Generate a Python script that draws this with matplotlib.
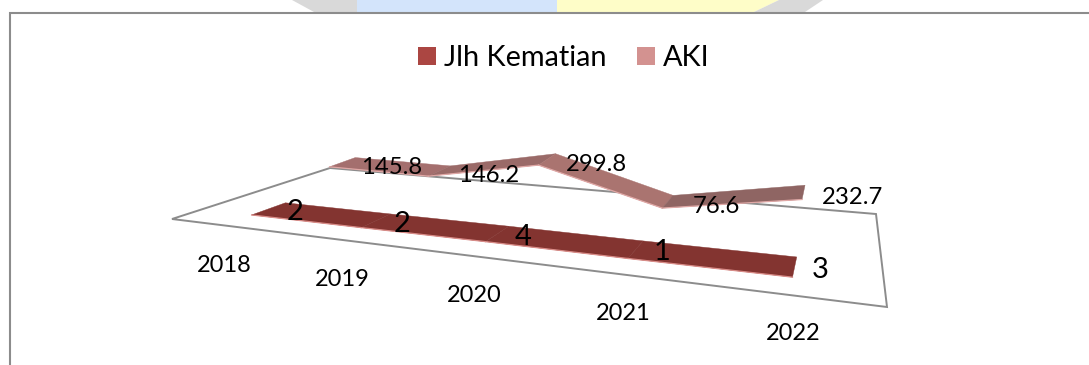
import matplotlib
matplotlib.use("Agg")
import matplotlib.pyplot as plt
from matplotlib.patches import Polygon, Rectangle
import numpy as np

years = ["2018", "2019", "2020", "2021", "2022"]
kematian = [2, 2, 4, 1, 3]
aki = [145.8, 146.2, 299.8, 76.6, 232.7]
kematian_labels = ["2", "2", "4", "1", "3"]
aki_labels = ["145.8", "146.2", "299.8", "76.6", "232.7"]

WIDTH, HEIGHT = 1089, 365

plt.rcParams["font.family"] = ["Lato", "DejaVu Sans"]

# floor of the 3D chart in pixels: front-left, front-right, back-right, back-left
floor_px = np.array([[172, 219], [887, 307], [876, 214], [330, 168]], dtype=float)
floor_uv = np.array([[0, 0], [1, 0], [1, 1], [0, 1]], dtype=float)
px_per_unit = 0.14


def homography(src, dst):
    rows = []
    for (u, v), (x, y) in zip(src, dst):
        rows.append([u, v, 1, 0, 0, 0, -u * x, -v * x, -x])
        rows.append([0, 0, 0, u, v, 1, -u * y, -v * y, -y])
    _, _, vt = np.linalg.svd(np.array(rows))
    return vt[-1].reshape(3, 3)


H = homography(floor_uv, floor_px)


def project(u, v, value=0.0):
    p = H @ np.array([u, v, 1.0])
    x, y = p[:2] / p[2]
    return x, y - value * px_per_unit


def ribbon(ax, values, v_front, v_back, colors, edge):
    n = len(values)
    us = (np.arange(n) + 0.5) / n
    for i in range(n - 1):
        quad = [project(us[i], v_front, values[i]), project(us[i + 1], v_front, values[i + 1]),
                project(us[i + 1], v_back, values[i + 1]), project(us[i], v_back, values[i])]
        ax.add_patch(Polygon(quad, closed=True, fc=colors[i], ec=colors[i], lw=0.3, zorder=3))
        ax.plot([quad[0][0], quad[1][0]], [quad[0][1], quad[1][1]], color=edge, lw=0.9, zorder=3)
    return us


fig = plt.figure(figsize=(WIDTH / 100, HEIGHT / 100), dpi=100)
ax = fig.add_axes([0, 0, 1, 1])
ax.set_xlim(0, WIDTH)
ax.set_ylim(HEIGHT, 0)
ax.axis("off")

# bits of the page behind the chart, above the frame
ax.add_patch(Polygon([(292, 0), (357, 0), (357, 12), (314, 12)], fc="#D9D9D9", ec="none"))
ax.add_patch(Rectangle((357, 0), 200, 12, fc="#D3E4FB", ec="none"))
ax.add_patch(Polygon([(557, 0), (779, 0), (754, 12), (557, 12)], fc="#FEFDC8", ec="none"))
ax.add_patch(Polygon([(779, 0), (823, 0), (805, 12), (754, 12)], fc="#D9D9D9", ec="none"))

# chart frame
ax.plot([10, 10, WIDTH], [HEIGHT, 12.5, 12.5], color="#8C8C8C", lw=1.5, solid_joinstyle="miter", zorder=2)

# floor
ax.add_patch(Polygon(floor_px, closed=True, fc="white", ec="#8C8C8C", lw=1.4, zorder=2))

us = ribbon(ax, kematian, 0.15, 0.35, ["#833430"] * 4, "#D98C88")
ribbon(ax, aki, 0.65, 0.85, ["#A46F6E", "#9A6A68", "#AA7470", "#8F6563"], "#E0A8A6")

label_u = np.linspace(0.234, 0.911, 5)
label_v = np.linspace(-0.36, -0.27, 5)
for u, v, year in zip(label_u, label_v, years):
    x, y = project(u, v)
    ax.text(x, y, year, fontsize=17, ha="center", va="center", color="black", zorder=5)

for u, val, lab in zip(us, aki, aki_labels):
    x, y = project(u, 0.75, val)
    ax.text(x + 49, y + 5, lab, fontsize=17.2, ha="center", va="center", color="black", zorder=5)

for u, val, lab in zip(us, kematian, kematian_labels):
    x, y = project(u, 0.25, val)
    ax.text(x + 26, y + 3, lab, fontsize=21, ha="center", va="center", color="black", zorder=5)

# legend
ax.add_patch(Rectangle((418, 47), 18, 18, fc="#AB4642", ec="none"))
ax.text(444, 58, "Jlh Kematian", fontsize=20.8, ha="left", va="center", color="black")
ax.add_patch(Rectangle((637, 47), 18, 18, fc="#D39290", ec="none"))
ax.text(663, 58, "AKI", fontsize=20.8, ha="left", va="center", color="black")

fig.savefig("out.png", dpi=100)
